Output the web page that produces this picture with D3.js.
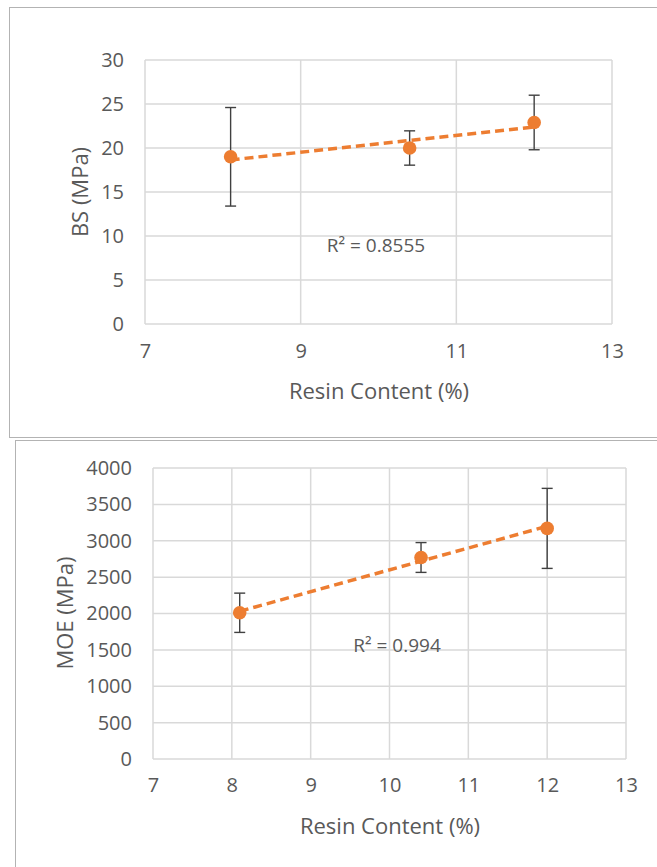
<!DOCTYPE html>
<html lang="en">
<head>
<meta charset="UTF-8">
<title>Resin content vs BS and MOE</title>
<script src="https://d3js.org/d3.v7.min.js"></script>
<style>
  body { margin:0; background:#fff; }
  svg { display:block; font-family:"Open Sans", sans-serif; }
</style>
</head>
<body>
<svg id="chart" width="657" height="867"></svg>
<script>
// data
var resin = [8.1, 10.4, 12.0];
var bsMean = [19.0, 20.0, 22.9];
var bsSD = [5.6, 1.95, 3.1];
var moeMean = [2010, 2770, 3170];
var moeSD = [270, 205, 550];
var bsXTicks = [7, 9, 11, 13];
var bsYTicks = [0, 5, 10, 15, 20, 25, 30];
var moeXTicks = [7, 8, 9, 10, 11, 12, 13];
var moeYTicks = [0, 500, 1000, 1500, 2000, 2500, 3000, 3500, 4000];
var bsR2 = "R² = 0.8555";
var moeR2 = "R² = 0.994";

var svg = d3.select("#chart");
var orange = "#ED7D31", grid = "#d9d9d9", txt = "#595959";

// chart frames
svg.append("rect").attr("x", 9.5).attr("y", 7.5).attr("width", 700).attr("height", 430)
  .attr("fill", "#fff").attr("stroke", "#b3b3b3");
svg.append("rect").attr("x", 15.5).attr("y", 440.5).attr("width", 700).attr("height", 500)
  .attr("fill", "#fff").attr("stroke", "#b3b3b3");

function linfit(xs, ys) {
  var mx = d3.mean(xs), my = d3.mean(ys);
  var sxy = d3.sum(xs, function(x, i) { return (x - mx) * (ys[i] - my); });
  var sxx = d3.sum(xs, function(x) { return (x - mx) * (x - mx); });
  var b = sxy / sxx;
  return function(x) { return my + b * (x - mx); };
}

function drawChart(c) {
  var x = d3.scaleLinear().domain([7, 13]).range([c.left, c.right]);
  var y = d3.scaleLinear().domain([0, c.ymax]).range([c.bottom, c.top]);
  var g = svg.append("g");

  // gridlines
  g.selectAll(".hg").data(c.yTicks).enter().append("line")
    .attr("x1", c.left).attr("x2", c.right)
    .attr("y1", function(d) { return y(d); }).attr("y2", function(d) { return y(d); })
    .attr("stroke", grid).attr("stroke-width", 1.5);
  g.selectAll(".vg").data(c.xTicks).enter().append("line")
    .attr("y1", c.top).attr("y2", c.bottom)
    .attr("x1", function(d) { return x(d); }).attr("x2", function(d) { return x(d); })
    .attr("stroke", grid).attr("stroke-width", 1.5);

  // axes
  var ya = d3.axisLeft(y).tickValues(c.yTicks).tickFormat(d3.format("d"))
    .tickSize(0).tickPadding(c.left - c.ylabX);
  g.append("g").attr("transform", "translate(" + c.left + ",0)").call(ya)
    .call(function(s) { s.select(".domain").remove(); })
    .selectAll("text").attr("fill", txt).style("font-size", "20px").style("font-family", "Open Sans");
  var xa = d3.axisBottom(x).tickValues(c.xTicks).tickFormat(d3.format("d"))
    .tickSize(0).tickPadding(c.xlabY - c.bottom);
  g.append("g").attr("transform", "translate(0," + c.bottom + ")").call(xa)
    .call(function(s) { s.select(".domain").remove(); })
    .selectAll("text").attr("fill", txt).style("font-size", "20px").style("font-family", "Open Sans");

  g.append("text").attr("x", c.xTitle[0]).attr("y", c.xTitle[1]).attr("text-anchor", "middle")
    .attr("fill", txt).style("font-size", "22px").text("Resin Content (%)");
  g.append("text").attr("transform", "translate(" + c.yTitle[0] + "," + c.yTitle[1] + ") rotate(-90)")
    .attr("text-anchor", "middle").attr("dy", "0.35em")
    .attr("fill", txt).style("font-size", "22px").text(c.yName);

  // error bars
  var pts = c.xs.map(function(v, i) { return { x: v, y: c.ys[i], e: c.es[i] }; });
  var eb = g.selectAll(".eb").data(pts).enter().append("g").attr("stroke", "#404040").attr("stroke-width", 1.4);
  eb.append("line").attr("x1", function(d) { return x(d.x); }).attr("x2", function(d) { return x(d.x); })
    .attr("y1", function(d) { return y(d.y - d.e); }).attr("y2", function(d) { return y(d.y + d.e); });
  [1, -1].forEach(function(s) {
    eb.append("line").attr("x1", function(d) { return x(d.x) - 5.5; }).attr("x2", function(d) { return x(d.x) + 5.5; })
      .attr("y1", function(d) { return y(d.y + s * d.e); }).attr("y2", function(d) { return y(d.y + s * d.e); });
  });

  // markers
  g.selectAll(".pt").data(pts).enter().append("circle")
    .attr("cx", function(d) { return x(d.x); }).attr("cy", function(d) { return y(d.y); })
    .attr("r", 6.8).attr("fill", orange);

  // linear trendline
  var f = linfit(c.xs, c.ys);
  var x0 = d3.min(c.xs), x1 = d3.max(c.xs);
  g.append("line").attr("x1", x(x0)).attr("y1", y(f(x0))).attr("x2", x(x1)).attr("y2", y(f(x1)))
    .attr("stroke", orange).attr("stroke-width", 3.5).attr("stroke-dasharray", "9,5");

  g.append("text").attr("x", c.r2Pos[0]).attr("y", c.r2Pos[1]).attr("text-anchor", "middle")
    .attr("fill", txt).style("font-size", "19px").text(c.r2);
}

drawChart({
  left: 145, right: 612, top: 60, bottom: 324, ymax: 30,
  xTicks: bsXTicks, yTicks: bsYTicks, ylabX: 124, xlabY: 344,
  xTitle: [379, 399], yTitle: [80, 192], yName: "BS (MPa)",
  xs: resin, ys: bsMean, es: bsSD, r2: bsR2, r2Pos: [376, 252]
});

drawChart({
  left: 153, right: 626, top: 468, bottom: 759, ymax: 4000,
  xTicks: moeXTicks, yTicks: moeYTicks, ylabX: 132, xlabY: 778,
  xTitle: [390, 834], yTitle: [65, 613], yName: "MOE (MPa)",
  xs: resin, ys: moeMean, es: moeSD, r2: moeR2, r2Pos: [397, 652]
});
</script>
</body>
</html>
